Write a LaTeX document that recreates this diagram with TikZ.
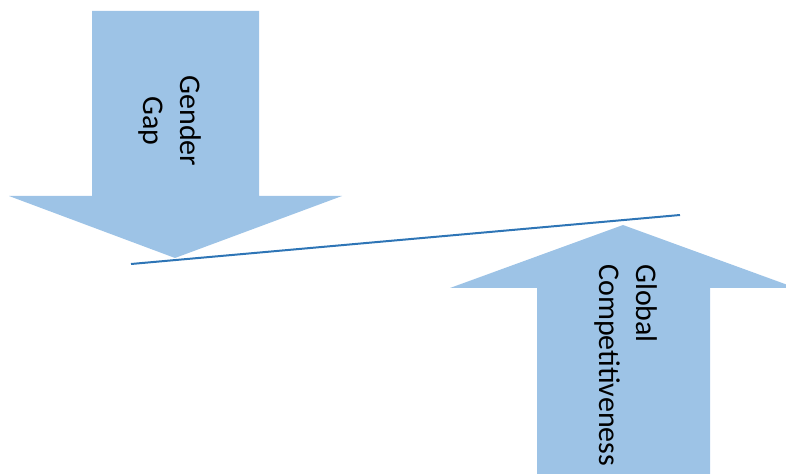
\documentclass[tikz,border=0pt]{standalone}
\usepackage{fontspec}
\setmainfont{Carlito}
\definecolor{arrowfill}{RGB}{157,195,230}
\definecolor{lineblue}{RGB}{46,117,182}
\begin{document}
\begin{tikzpicture}[x=0.75pt,y=0.75pt,yscale=-1,xscale=1,
  bigarrow/.style={fill=arrowfill,draw=none},
  arrowtext/.style={inner sep=0.75pt,font=\fontsize{22.5}{27.2}\selectfont,rotate=-90},
  balance/.style={draw=lineblue,line width=1.5}]
 \useasboundingbox (0,0) rectangle (786,474);
 \clip (0,0) rectangle (786,474);

 %Shape: Down Arrow
 \fill [bigarrow] (92,11) -- (259,11) -- (259,196) -- (342,196) -- (175,258) -- (9,196) -- (92,196) -- cycle ;
 %Shape: Up Arrow
 \fill [bigarrow] (537,480) -- (537,288) -- (450,288) -- (623,225) -- (796,288) -- (710,288) -- (710,480) -- cycle ;

 %Straight Lines
 \coordinate (lineL) at (131,264) ;
 \coordinate (lineR) at (680,215) ;
 \draw [balance] (lineL) -- (lineR) ;

 % Text Node
 \node [arrowtext,align=center] (gendergap) at (170,121) {Gender\\Gap};
 % Text Node
 \node [arrowtext,align=left,anchor=west] (globalcomp) at (626,263) {Global\\Competitiveness};
\end{tikzpicture}
\end{document}
